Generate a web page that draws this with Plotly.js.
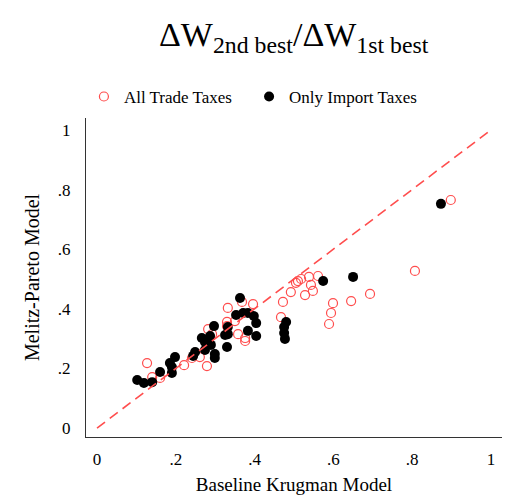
<!DOCTYPE html>
<html>
<head>
<meta charset="utf-8">
<script src="https://cdn.plot.ly/plotly-3.0.1.min.js"></script>
<style>html,body{margin:0;padding:0;background:#fff;}#chart{width:521px;height:495px;}</style>
</head>
<body>
<div id="chart"></div>
<script>
// All Trade Taxes (open red circles)
const allTradeX = [0.127,0.140,0.160,0.221,0.241,0.261,0.279,0.292,0.282,0.332,0.330,0.330,0.350,0.358,0.368,0.376,0.376,0.396,0.472,0.467,0.492,0.505,0.510,0.518,0.528,0.538,0.561,0.543,0.548,0.599,0.594,0.589,0.645,0.693,0.807,0.898];
const allTradeY = [0.218,0.171,0.168,0.211,0.235,0.238,0.208,0.315,0.332,0.403,0.356,0.342,0.359,0.315,0.423,0.292,0.302,0.416,0.423,0.372,0.456,0.487,0.493,0.500,0.446,0.507,0.510,0.480,0.460,0.419,0.386,0.349,0.426,0.450,0.527,0.765];
// Only Import Taxes (filled black circles)
const importX = [0.102,0.119,0.140,0.160,0.185,0.190,0.198,0.190,0.249,0.244,0.266,0.274,0.274,0.287,0.297,0.289,0.299,0.299,0.325,0.330,0.332,0.353,0.363,0.371,0.383,0.383,0.398,0.404,0.404,0.332,0.480,0.475,0.475,0.477,0.574,0.650,0.873];
const importY = [0.161,0.151,0.154,0.188,0.218,0.205,0.238,0.185,0.255,0.242,0.302,0.289,0.262,0.309,0.342,0.279,0.248,0.235,0.312,0.272,0.339,0.379,0.436,0.386,0.386,0.326,0.376,0.352,0.309,0.315,0.356,0.339,0.319,0.299,0.493,0.507,0.752];
// 45-degree reference line
const diagX = [0, 1];
const diagY = [0, 1];
const tickVals = [0, 0.2, 0.4, 0.6, 0.8, 1];
const tickText = ['0', '.2', '.4', '.6', '.8', '1'];
const titleText = 'ΔW<sub>2nd best</sub>/ΔW<sub>1st best</sub>';

const serif = '"Liberation Serif", "Times New Roman", serif';

const traces = [
  {x: allTradeX, y: allTradeY, type: 'scatter', mode: 'markers', name: 'All Trade Taxes', legend: 'legend',
   marker: {symbol: 'circle-open', size: 9, color: '#ff4d4d', line: {width: 1.2, color: '#ff4d4d'}}},
  {x: importX, y: importY, type: 'scatter', mode: 'markers', name: 'Only Import Taxes', legend: 'legend2',
   marker: {symbol: 'circle', size: 10, color: '#000000'}},
  {x: diagX, y: diagY, type: 'scatter', mode: 'lines', showlegend: false,
   line: {color: '#ff4d4d', width: 1.6, dash: '10px,6px'}}
];

const legendBase = {orientation: 'h', xanchor: 'left', y: 1.066, yanchor: 'middle',
  font: {family: serif, size: 17, color: '#000'}, bgcolor: 'rgba(0,0,0,0)', itemwidth: 30};

const layout = {
  width: 521, height: 495,
  margin: {l: 86, r: 19, t: 118, b: 58},
  paper_bgcolor: '#ffffff', plot_bgcolor: '#ffffff',
  font: {family: serif, color: '#000000', size: 16},
  annotations: [{text: titleText, xref: 'paper', yref: 'paper', x: 0.5, y: 1.255,
                 xanchor: 'center', yanchor: 'middle', showarrow: false,
                 font: {family: 'Liberation Serif', size: 34, color: '#000'}}],
  showlegend: true,
  legend: Object.assign({}, legendBase, {x: -0.005}),
  legend2: Object.assign({}, legendBase, {x: 0.392}),
  xaxis: {range: [-0.028, 1.028], tickvals: tickVals, ticktext: tickText, showgrid: false, zeroline: false,
          showline: true, linecolor: '#333', linewidth: 1, ticks: '', ticklabelstandoff: 7,
          tickfont: {family: serif, size: 17},
          title: {text: 'Baseline Krugman Model', font: {family: serif, size: 19}, standoff: 10}},
  yaxis: {range: [-0.030, 1.040], tickvals: tickVals, ticktext: tickText, showgrid: false, zeroline: false,
          showline: true, linecolor: '#333', linewidth: 1, ticks: '', ticklabelstandoff: 11,
          tickfont: {family: serif, size: 17},
          title: {text: 'Melitz-Pareto Model', font: {family: serif, size: 20}, standoff: 12}}
};

Plotly.newPlot('chart', traces, layout, {displayModeBar: false, staticPlot: true});
</script>
</body>
</html>
